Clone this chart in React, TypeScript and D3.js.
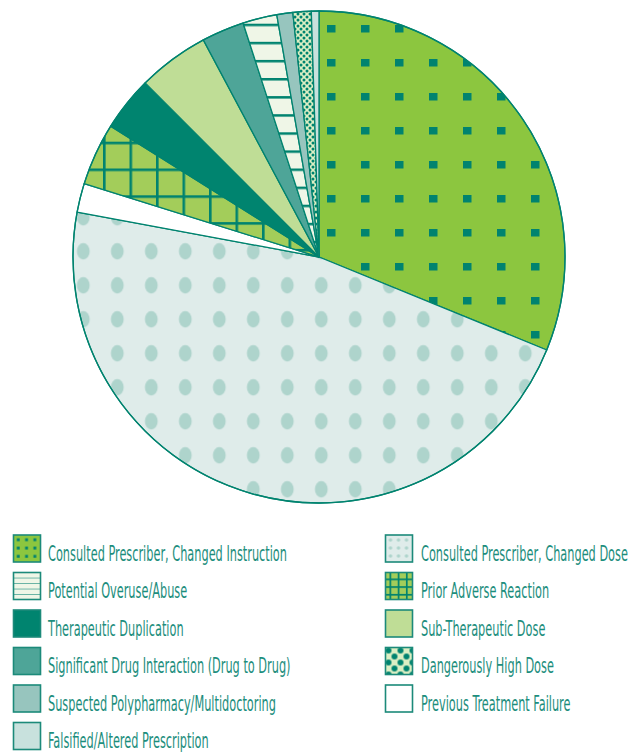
import React, { useLayoutEffect, useRef, useState } from "react";
import * as d3 from "d3";

// Pie order, clockwise from 12 o'clock
const categories = [
  "Consulted Prescriber, Changed Instruction",
  "Consulted Prescriber, Changed Dose",
  "Previous Treatment Failure",
  "Prior Adverse Reaction",
  "Therapeutic Duplication",
  "Sub-Therapeutic Dose",
  "Significant Drug Interaction (Drug to Drug)",
  "Potential Overuse/Abuse",
  "Suspected Polypharmacy/Multidoctoring",
  "Dangerously High Dose",
  "Falsified/Altered Prescription",
];
const values = [31.2, 46.8, 1.9, 4.1, 3.6, 4.7, 2.8, 2.25, 1.05, 1.2, 0.5];

// legend columns (indices into categories)
const legendLeft = [0, 7, 4, 6, 8, 10];
const legendRight = [1, 3, 5, 9, 2];

const TEAL = "#00836f";
const TEXT = "#1d8e7d";
const W = 637;
const H = 754;
const CX = 319;
const CY = 257;
const R = 246;

const solid: Record<number, string> = {
  2: "#ffffff",
  4: "#00846f",
  5: "#bfdd96",
  6: "#4ea598",
  8: "#97c5be",
  10: "#c8e1dd",
};

function PiePatterns() {
  return (
    <>
      <pattern id="p0" patternUnits="userSpaceOnUse" x={348} y={40} width={34} height={34}>
        <rect width={34} height={34} fill="#8cc63f" />
        <rect x={0} y={0} width={8.5} height={7.5} fill={TEAL} />
      </pattern>
      <pattern id="p1" patternUnits="userSpaceOnUse" x={87.3} y={215.3} width={34} height={34}>
        <rect width={34} height={34} fill="#dfecea" />
        <ellipse cx={17} cy={17} rx={6.4} ry={8.3} fill="#aed4cc" />
      </pattern>
      <pattern id="p3" patternUnits="userSpaceOnUse" x={102} y={152.7} width={26.5} height={26.8}>
        <rect width={26.5} height={26.8} fill="#a3cd5a" />
        <rect x={0} y={0} width={2.6} height={26.8} fill={TEAL} />
        <rect x={0} y={0} width={26.5} height={2.6} fill={TEAL} />
      </pattern>
      <pattern id="p7" patternUnits="userSpaceOnUse" x={0} y={2} width={40} height={18.1}>
        <rect width={40} height={18.1} fill="#eff6e7" />
        <rect x={0} y={0} width={40} height={2.5} fill={TEAL} />
      </pattern>
      <pattern id="p9" patternUnits="userSpaceOnUse" x={0} y={0} width={6} height={6}>
        <rect width={6} height={6} fill="#dcefc4" />
        <circle cx={0} cy={0} r={1.5} fill={TEAL} />
        <circle cx={6} cy={0} r={1.5} fill={TEAL} />
        <circle cx={0} cy={6} r={1.5} fill={TEAL} />
        <circle cx={6} cy={6} r={1.5} fill={TEAL} />
        <circle cx={3} cy={3} r={1.5} fill={TEAL} />
      </pattern>
    </>
  );
}

function LegendPattern({ idx, x, y }: { idx: number; x: number; y: number }) {
  const id = `lg${idx}`;
  if (idx === 0)
    return (
      <pattern id={id} patternUnits="userSpaceOnUse" x={x} y={y} width={8.3} height={8.3}>
        <rect width={8.3} height={8.3} fill="#8cc63f" />
        <rect x={3.3} y={3.3} width={2.9} height={2.9} fill={TEAL} />
      </pattern>
    );
  if (idx === 1)
    return (
      <pattern id={id} patternUnits="userSpaceOnUse" x={x + 1} y={y + 1} width={8} height={8}>
        <rect width={8} height={8} fill="#dfecea" />
        <circle cx={4} cy={4} r={1.8} fill="#aed4cc" />
      </pattern>
    );
  if (idx === 3)
    return (
      <pattern id={id} patternUnits="userSpaceOnUse" x={x + 4} y={y + 6} width={8.2} height={7.7}>
        <rect width={8.2} height={7.7} fill="#a3cd5a" />
        <rect x={0} y={0} width={1.7} height={7.7} fill={TEAL} />
        <rect x={0} y={0} width={8.2} height={1.7} fill={TEAL} />
      </pattern>
    );
  if (idx === 7)
    return (
      <pattern id={id} patternUnits="userSpaceOnUse" x={x} y={y + 0.5} width={30} height={5.5}>
        <rect width={30} height={5.5} fill="#eff6e7" />
        <rect x={0} y={4.8} width={30} height={1.4} fill="#3a9c8c" />
      </pattern>
    );
  if (idx === 9)
    return (
      <pattern id={id} patternUnits="userSpaceOnUse" x={x + 3} y={y + 3} width={12} height={12}>
        <rect width={12} height={12} fill="#dcefc4" />
        <circle cx={0} cy={0} r={3} fill={TEAL} />
        <circle cx={12} cy={0} r={3} fill={TEAL} />
        <circle cx={0} cy={12} r={3} fill={TEAL} />
        <circle cx={12} cy={12} r={3} fill={TEAL} />
        <circle cx={6} cy={6} r={3} fill={TEAL} />
      </pattern>
    );
  return null;
}

const patterned = new Set([0, 1, 3, 7, 9]);
const pieFill = (i: number) => (patterned.has(i) ? `url(#p${i})` : solid[i]);
const legendFill = (i: number) => (patterned.has(i) ? `url(#lg${i})` : solid[i]);

const FONT = "'Liberation Sans Narrow', 'DejaVu Sans Condensed', 'Roboto', sans-serif";
const FS = 20.5;

export default function App() {
  const measure = useRef<SVGTextElement>(null);
  const [sx, setSx] = useState(0.78);

  useLayoutEffect(() => {
    if (measure.current) {
      const len = measure.current.getComputedTextLength();
      if (len > 0) setSx(239 / len);
    }
  }, []);

  const pie = d3
    .pie<number>()
    .sort(null)
    .value((d) => d)
    .startAngle(0)
    .endAngle(2 * Math.PI);
  const arcs = pie(values);
  const arc = d3.arc<d3.PieArcDatum<number>>().innerRadius(0).outerRadius(R);

  const rowY = d3.range(6).map((i) => 535 + 37.5 * i);
  const sw = 27;

  const legendItems = [
    ...legendLeft.map((c, r) => ({ c, x: 13.5, y: rowY[r], tx: 48 })),
    ...legendRight.map((c, r) => ({ c, x: 385.5, y: rowY[r], tx: 421 })),
  ];

  return (
    <svg
      width={W}
      height={H}
      style={{ position: "absolute", left: 0, top: 0, display: "block" }}
    >
      <defs>
        <PiePatterns />
        {legendItems.map((it) => (
          <LegendPattern key={it.c} idx={it.c} x={it.x} y={it.y} />
        ))}
      </defs>
      <rect width={W} height={H} fill="#ffffff" />
      <g transform={`translate(${CX},${CY})`}>
        {arcs.map((a, i) => (
          <path
            key={i}
            d={arc(a) || ""}
            fill={pieFill(i)}
            stroke={TEAL}
            strokeWidth={1.3}
            strokeLinejoin="round"
          />
        ))}
        <circle r={R} fill="none" stroke={TEAL} strokeWidth={1.3} />
      </g>
      <g>
        {legendItems.map((it) => (
          <g key={it.c}>
            <rect
              x={it.x}
              y={it.y}
              width={sw}
              height={sw}
              fill={legendFill(it.c)}
              stroke="#1c8a7a"
              strokeWidth={1.6}
            />
            <text
              ref={it.c === 0 ? measure : undefined}
              transform={`translate(${it.tx},${it.y + 25.5}) scale(${sx},1)`}
              fontFamily={FONT}
              fontSize={FS}
              fill={TEXT}
            >
              {categories[it.c]}
            </text>
          </g>
        ))}
      </g>
    </svg>
  );
}
